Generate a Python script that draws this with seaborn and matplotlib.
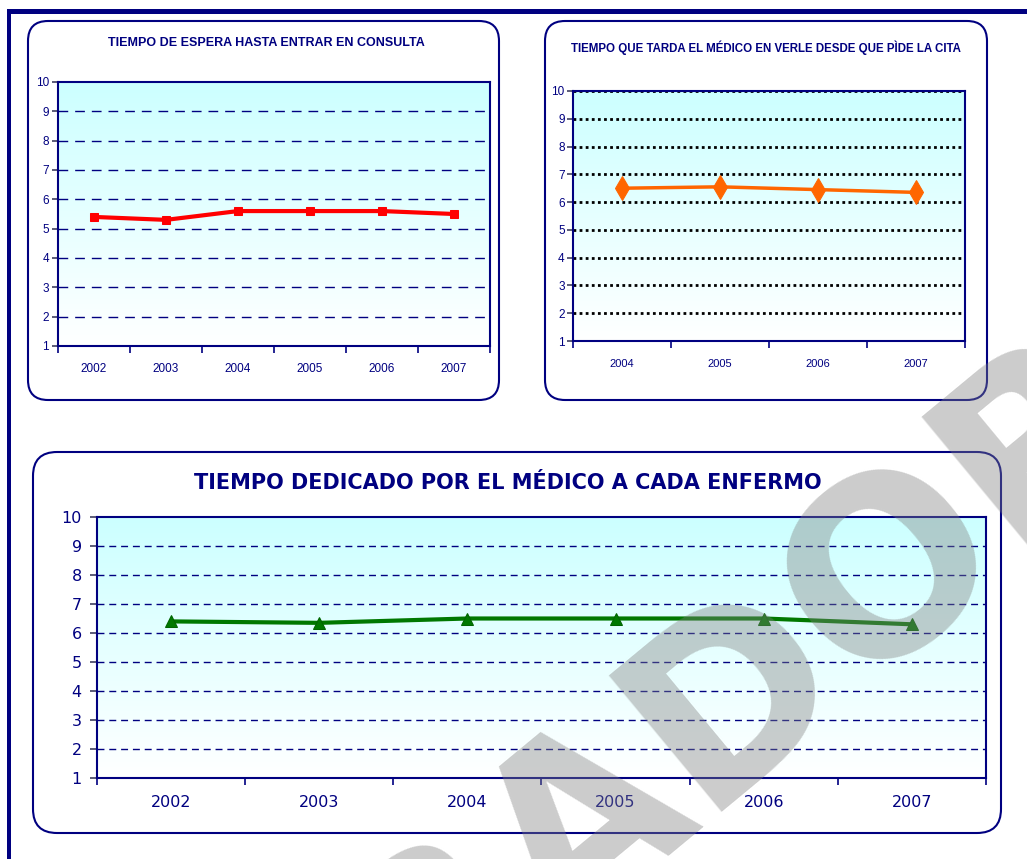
import numpy as np
import pandas as pd
import matplotlib
matplotlib.use("Agg")
import matplotlib.pyplot as plt
import seaborn as sns
from matplotlib.patches import FancyBboxPatch, Rectangle
from matplotlib.transforms import IdentityTransform
from matplotlib.colors import LinearSegmentedColormap

# ---------------- data ----------------
years_espera = ["2002", "2003", "2004", "2005", "2006", "2007"]
espera = [5.4, 5.3, 5.6, 5.6, 5.6, 5.5]

years_tarda = ["2004", "2005", "2006", "2007"]
tarda = [6.5, 6.55, 6.45, 6.35]

years_dedicado = ["2002", "2003", "2004", "2005", "2006", "2007"]
dedicado = [6.4, 6.35, 6.5, 6.5, 6.5, 6.3]

y_ticks = [1, 2, 3, 4, 5, 6, 7, 8, 9, 10]

title1 = "TIEMPO DE ESPERA HASTA ENTRAR EN CONSULTA"
title2 = "TIEMPO QUE TARDA EL MÉDICO EN VERLE DESDE QUE PÌDE LA CITA"
title3 = "TIEMPO DEDICADO POR EL MÉDICO A CADA ENFERMO"
watermark = "BORRADOR"

# ---------------- styling ----------------
W, H = 1027, 859
NAVY = "#000080"
NARROW = ["Liberation Sans Narrow", "Liberation Sans", "DejaVu Sans"]
WIDE = ["DejaVu Sans"]
grad_cmap = LinearSegmentedColormap.from_list("g", ["#ffffff", "#ccffff"])

fig = plt.figure(figsize=(W / 100, H / 100), dpi=100)
fig.patch.set_facecolor("white")

# page border (thick navy lines on top and left)
fig.add_artist(Rectangle((7, H - 14), W - 7, 5, transform=IdentityTransform(),
                         facecolor=NAVY, edgecolor="none", zorder=-5))
fig.add_artist(Rectangle((7, 0), 4, H - 9, transform=IdentityTransform(),
                         facecolor=NAVY, edgecolor="none", zorder=-5))


def rounded_box(x0, y0, x1, y1, r=20):
    fig.add_artist(FancyBboxPatch((x0, H - y1), x1 - x0, y1 - y0,
                                  boxstyle=f"round,pad=0,rounding_size={r}",
                                  transform=IdentityTransform(),
                                  facecolor="white", edgecolor=NAVY,
                                  linewidth=1.5, zorder=-4))


def make_axes(x0, y0, x1, y1):
    return fig.add_axes([x0 / W, 1 - y1 / H, (x1 - x0) / W, (y1 - y0) / H])


def style_axes(ax, cats, grid_kw, skip_top, family, xfs, yfs, xpad, ypad, ylen):
    n = len(cats)
    ax.imshow(np.linspace(1, 0, 256).reshape(-1, 1), cmap=grad_cmap,
              aspect="auto", extent=[0, 1, 0, 1], transform=ax.transAxes,
              zorder=0, interpolation="bilinear")
    ax.set_xlim(-0.5, n - 0.5)
    ax.set_ylim(1, 10)
    ax.set_yticks(y_ticks)
    ax.set_yticklabels([str(t) for t in y_ticks], family=family,
                       fontsize=yfs, color=NAVY)
    ax.set_xticks(range(n))
    ax.set_xticklabels(cats, family=family, fontsize=xfs, color=NAVY)
    ax.set_xticks(np.arange(n + 1) - 0.5, minor=True)
    ax.tick_params(axis="x", which="major", length=0, pad=xpad)
    ax.tick_params(axis="x", which="minor", length=5, width=1.2, color=NAVY,
                   direction="out")
    ax.tick_params(axis="y", length=ylen, width=1.2, color="#404060",
                   pad=ypad)
    for s in ax.spines.values():
        s.set_color(NAVY)
        s.set_linewidth(1.5)
        s.set_zorder(3)
    for yv in (y_ticks[1:-1] if skip_top else y_ticks[1:]):
        ax.axhline(yv, zorder=1, **grid_kw)
    ax.set_xlabel("")
    ax.set_ylabel("")
    if ax.get_legend():
        ax.get_legend().remove()


# ---------------- chart 1 ----------------
rounded_box(28, 21, 499, 400, r=20)
ax1 = make_axes(58, 82, 490, 346)
df1 = pd.DataFrame({"year": years_espera, "valor": espera})
sns.lineplot(data=df1, x="year", y="valor", ax=ax1, color="#ff0000",
             linewidth=3, marker="s", markersize=5.5, markeredgecolor="#ff0000",
             zorder=4, sort=False)
style_axes(ax1, years_espera,
           dict(color=NAVY, linewidth=1.0, linestyle=(0, (7, 5))), True,
           NARROW, 8.5, 8.5, 12, 2.5, 4)
fig.text(266 / W, 1 - 43 / H, title1, ha="center", va="center",
         family=NARROW, fontweight="bold", fontsize=9, color=NAVY)

# ---------------- chart 2 ----------------
rounded_box(545, 21, 987, 400, r=20)
ax2 = make_axes(573, 91, 965, 341)
df2 = pd.DataFrame({"year": years_tarda, "valor": tarda})
sns.lineplot(data=df2, x="year", y="valor", ax=ax2, color="#ff6600",
             linewidth=2.5, marker="d", markersize=12,
             markeredgecolor="#ff6600", zorder=4, sort=False)
style_axes(ax2, years_tarda,
           dict(color="black", linewidth=2.0, linestyle=(0, (1, 1.2))), False,
           NARROW, 8, 8.5, 13, 2.0, 4)
fig.text(766 / W, 1 - 48 / H, title2, ha="center", va="center",
         family=NARROW, fontweight="bold", fontsize=8.3, color=NAVY)

# ---------------- chart 3 ----------------
rounded_box(33, 452, 1001, 833, r=24)
ax3 = make_axes(97, 517, 986, 778)
df3 = pd.DataFrame({"year": years_dedicado, "valor": dedicado})
sns.lineplot(data=df3, x="year", y="valor", ax=ax3, color="#007800",
             linewidth=3, marker="^", markersize=9, markeredgecolor="#006400",
             zorder=4, sort=False)
style_axes(ax3, years_dedicado,
           dict(color=NAVY, linewidth=1.0, linestyle=(0, (5, 3.5))), True,
           WIDE, 11.5, 11.5, 12, 6, 5)
fig.text(508 / W, 1 - 483 / H, title3, ha="center", va="center",
         family=WIDE, fontweight="bold", fontsize=15, color=NAVY)

# ---------------- watermark ----------------
fig.text(563 / W, 1 - 925 / H, watermark, ha="center", va="baseline",
         rotation=39.6, rotation_mode="anchor", family=WIDE,
         fontweight="bold", fontsize=174, color="#808080", alpha=0.4,
         zorder=10)

fig.savefig("out.png", dpi=100)
